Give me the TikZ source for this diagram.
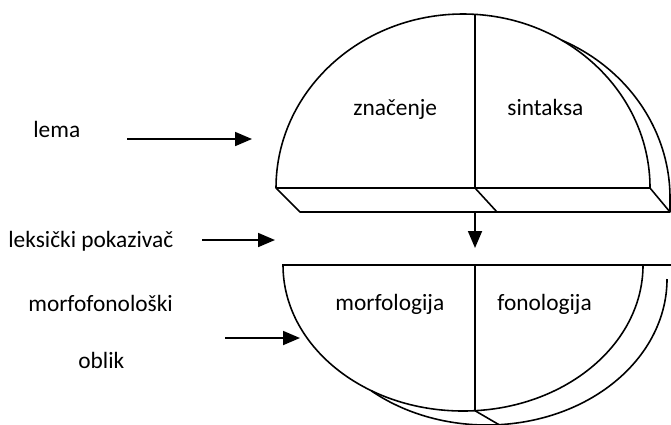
\documentclass[tikz,border=0pt]{standalone}
\usepackage{fontspec}
\setmainfont{Carlito}
\usetikzlibrary{arrows.meta}

\tikzset{
  lbl/.style={inner sep=0pt, anchor=base west, font=\fontsize{13.3}{16}\selectfont},
  rim/.style={line width=0.9pt, line join=round},
  pointer/.style={line width=1pt, -{Triangle[length=3.4mm, width=2.8mm]}}
}

\begin{document}
\begin{tikzpicture}[x=0.02cm, y=0.02cm]
  \useasboundingbox (0,0) rectangle (671,424);

  % upper half: back rim, dome and slab
  \draw[rim] (483,226) ++(65:187 and 174) arc[start angle=65, end angle=0, x radius=187, y radius=174] -- (670,212);
  \draw[rim] (276,236) arc[start angle=180, end angle=0, x radius=187, y radius=174];
  \draw[rim] (475,236) -- (475,409.6);
  \draw[rim] (276,236) -- (650,236) -- (670,212) -- (300,212) -- cycle;
  \draw[rim] (475,236) -- (497,212);

  % lower half
  \draw[rim] (487,145) ++(230:180 and 146) arc[start angle=230, end angle=360, x radius=180, y radius=146];
  \draw[rim] (283,159) arc[start angle=180, end angle=360, x radius=180, y radius=146];
  \draw[rim] (282,159) -- (671,159);
  \draw[rim] (475,159) -- (475,13.3) -- (499,-0.7);

  % labels
  \node[lbl] (lema) at (33,287) {lema};
  \node[lbl] (pokazivac) at (8,177) {leksički pokazivač};
  \node[lbl] (morfo) at (28,113) {morfofonološki};
  \node[lbl] (oblik) at (78,56) {oblik};
  \node[lbl] (znacenje) at (353,309) {značenje};
  \node[lbl] (sintaksa) at (507,309) {sintaksa};
  \node[lbl] (morfologija) at (335,114) {morfologija};
  \node[lbl] (fonologija) at (497,114) {fonologija};

  % arrows
  \coordinate (lemaA) at (127,285);
  \coordinate (lemaB) at (252,285);
  \coordinate (pokA) at (202,184);
  \coordinate (pokB) at (275,184);
  \coordinate (morfA) at (225,86);
  \coordinate (morfB) at (300,86);
  \coordinate (slab) at (475,212);
  \coordinate (gap) at (475,176);
  \draw[pointer] (lemaA) -- (lemaB);
  \draw[pointer] (pokA) -- (pokB);
  \draw[pointer] (morfA) -- (morfB);
  \draw[pointer] (slab) -- (gap);
\end{tikzpicture}
\end{document}
